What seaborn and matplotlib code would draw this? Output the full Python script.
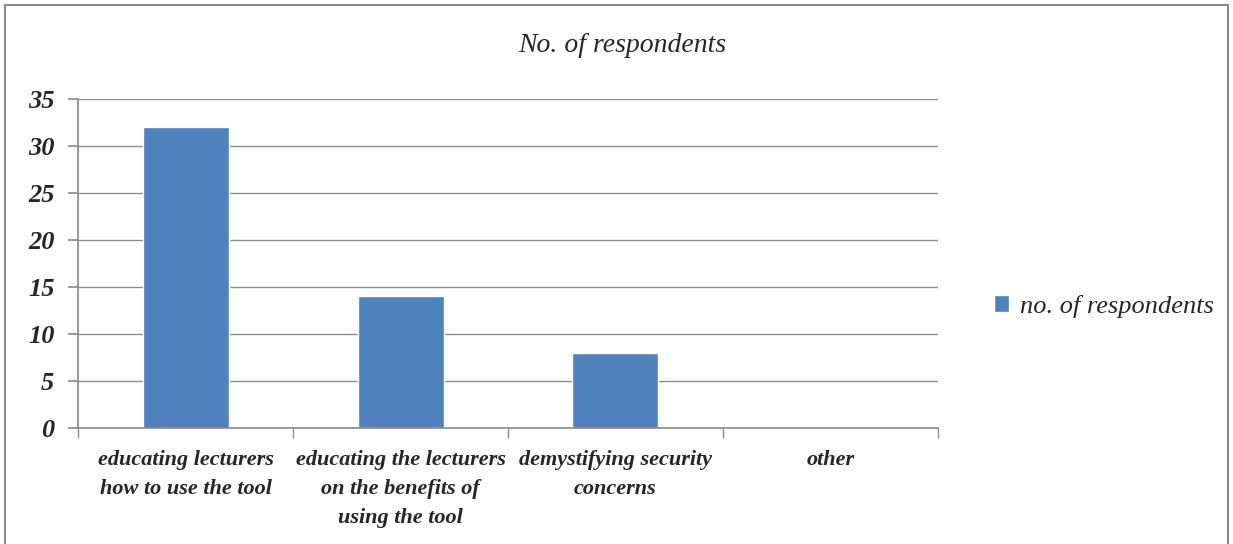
import pandas as pd
import seaborn as sns
import matplotlib.pyplot as plt
from matplotlib.patches import Rectangle

# data
categories = ["educating lecturers\nhow to use the tool",
              "educating the lecturers\non the benefits of\nusing the tool",
              "demystifying security\nconcerns",
              "other"]
respondents = [32, 14, 8, 0]
y_ticks = [0, 5, 10, 15, 20, 25, 30, 35]

df = pd.DataFrame({"category": categories, "respondents": respondents})

sns.set_theme(style="white")
plt.rcParams['font.family'] = ['Liberation Serif', 'DejaVu Serif']

fig = plt.figure(figsize=(12.33, 5.44), dpi=100)
ax = fig.add_axes([0.0633, 0.2132, 0.6974, 0.6048])

sns.barplot(data=df, x="category", y="respondents", color="#4F81BD",
            width=0.4, saturation=1, label="no. of respondents", ax=ax)

ax.set_ylim(0, 35)
ax.set_xlim(-0.5, 3.5)
ax.set_yticks(y_ticks)
ax.yaxis.grid(True, color="#8c8c8c", linewidth=1)
ax.set_axisbelow(True)
ax.set_xlabel("")
ax.set_ylabel("")

for s in ["top", "right"]:
    ax.spines[s].set_visible(False)
ax.spines["left"].set_color("#8c8c8c")
ax.spines["bottom"].set_color("#8c8c8c")

ax.tick_params(axis="y", length=7, color="#8c8c8c", pad=10, left=True)
for lab in ax.get_yticklabels():
    lab.set_fontsize(19)
    lab.set_fontstyle("italic")
    lab.set_fontweight("bold")

ax.tick_params(axis="x", which="major", length=0, pad=16)
ax.set_xticks([-0.5, 0.5, 1.5, 2.5, 3.5], minor=True)
ax.tick_params(axis="x", which="minor", length=7, color="#8c8c8c", bottom=True)
for lab in ax.get_xticklabels():
    lab.set_fontsize(16)
    lab.set_fontstyle("italic")
    lab.set_fontweight("bold")
    lab.set_linespacing(1.6)

fig.text(0.505, 0.917, "No. of respondents", fontsize=20, fontstyle="italic",
         ha="center", va="center")

ax.legend(loc="center left", bbox_to_anchor=(1.037, 0.37), frameon=False,
          prop={"size": 19, "style": "italic"}, handlelength=0.57,
          handleheight=0.57, handletextpad=0.45)

fig.add_artist(Rectangle((0.004, -0.01), 0.992, 1.0, transform=fig.transFigure,
                         fill=False, edgecolor="#8c8c8c", linewidth=1.5))

fig.savefig("out.png", dpi=100)
